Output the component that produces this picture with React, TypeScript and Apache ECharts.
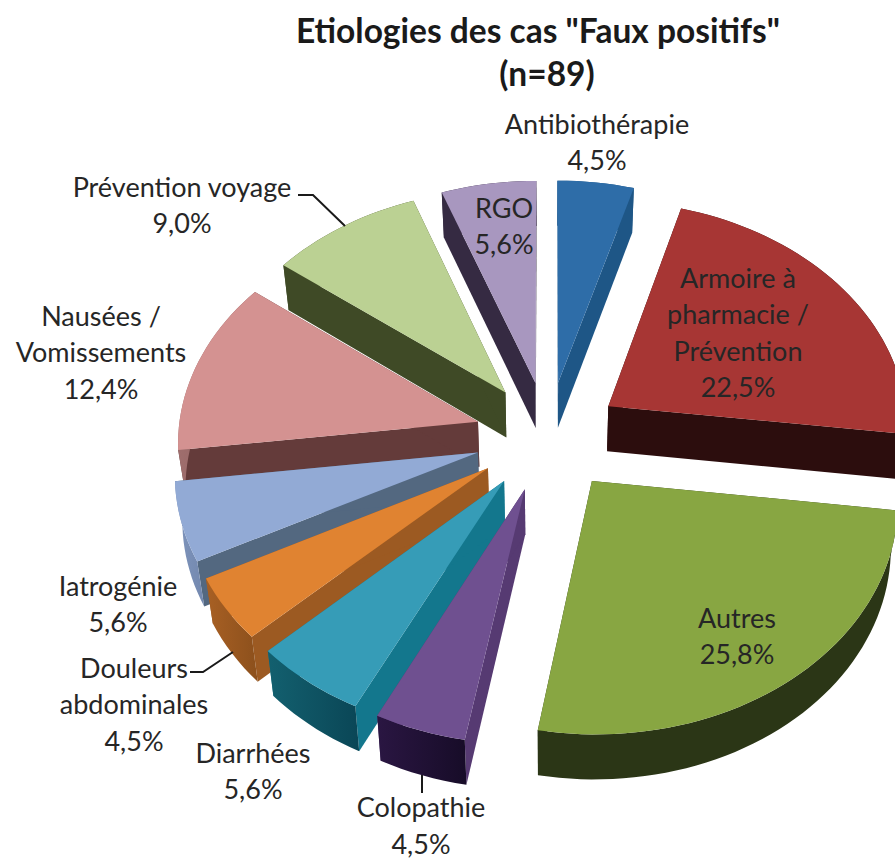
import React, { useEffect, useRef } from "react";
import * as echarts from "echarts";

const categories = ["Antibiothérapie", "Armoire à\npharmacie /\nPrévention", "Autres", "Colopathie", "Diarrhées", "Douleurs\nabdominales", "Iatrogénie", "Nausées /\nVomissements", "Prévention voyage", "RGO"];
const values = [4.5, 22.5, 25.8, 4.5, 5.6, 4.5, 5.6, 12.4, 9.0, 5.6];
const topColors = ["#2e6da8", "#a73634", "#88a642", "#6f5090", "#369cb7", "#e08331", "#92aad5", "#d49291", "#bbd193", "#a897bf"];
const faceColors = ["#1e5686", "#2c0d0d", "#2b3616", "#563a72", "#13778d", "#9c5a22", "#536880", "#643b3a", "#3f4a26", "#352a42"];
const wallFrom = ["#1e5686", "#2c0d0d", "#2b3616", "#2a1642", "#13606f", "#a86024", "#7f95bd", "#9f6e6d", "#3f4a26", "#352a42"];
const wallTo = ["#1e5686", "#2c0d0d", "#2b3616", "#170c28", "#0a4656", "#8c501c", "#7388ae", "#8a5a59", "#3f4a26", "#352a42"];
const drawOrder = [9, 0, 8, 1, 7, 6, 5, 4, 3, 2];
const labelAnchors = [[597, 123], [738, 277], [737, 617], [421, 806.5], [253, 752], [134, 667], [118, 585], [101, 315], [182, 186], [504, 207]];
const leaderLines = [
  [[298, 195], [313, 195], [345, 226]],
  [[190, 672], [203, 672], [233, 652]],
  [[422, 775], [422, 793]],
];

const CX = 548, CY = 436, SX = 300, SY = 226, P = 0.079, EXPLODE = 0.243, DEPTH = 45, SHRINK = 0.98;
const LINE = 36.5;

function project(u: number, v: number, down: boolean): number[] {
  const w = 1 - P * v;
  const x = SX * u / w;
  const y = CY + SY * v / w;
  return down ? [CX + x * SHRINK, y + DEPTH] : [CX + x, y];
}

function sliceShapes(i: number) {
  const before = values.slice(0, i).reduce((a, b) => a + b, 0);
  const a0 = (before / 100) * Math.PI * 2;
  const a1 = ((before + values[i]) / 100) * Math.PI * 2;
  const mid = (a0 + a1) / 2;
  const ou = EXPLODE * Math.sin(mid);
  const ov = -EXPLODE * Math.cos(mid);
  const steps = Math.max(8, Math.round((a1 - a0) * 30));
  const top: number[][] = [];
  const bottom: number[][] = [];
  for (let s = 0; s <= steps; s++) {
    const a = a0 + ((a1 - a0) * s) / steps;
    top.push(project(ou + Math.sin(a), ov - Math.cos(a), false));
    bottom.push(project(ou + Math.sin(a), ov - Math.cos(a), true));
  }
  const apexTop = project(ou, ov, false);
  const apexBottom = project(ou, ov, true);
  return {
    top: [apexTop, ...top],
    startFace: [apexTop, top[0], bottom[0], apexBottom],
    endFace: [apexTop, top[steps], bottom[steps], apexBottom],
    wall: [...top, ...bottom.slice().reverse()],
  };
}

const poly = (points: number[][], fill: any) => ({ type: "polygon", shape: { points }, style: { fill, stroke: null } });

function renderSlice(_params: any, api: any) {
  const i = api.value(0);
  const s = sliceShapes(i);
  const wallFill = new echarts.graphic.LinearGradient(0, 0, 1, 0, [
    { offset: 0, color: wallFrom[i] },
    { offset: 1, color: wallTo[i] },
  ]);
  return {
    type: "group",
    children: [
      poly(s.startFace, faceColors[i]),
      poly(s.endFace, faceColors[i]),
      poly(s.wall, wallFill),
      poly(s.top, topColors[i]),
    ],
  };
}

const pct = (v: number) => v.toFixed(1).replace(".", ",") + "%";

function labelElements() {
  const out: any[] = [];
  categories.forEach((c, i) => {
    const lines = [...c.split("\n"), pct(values[i])];
    lines.forEach((t, k) => {
      out.push({
        type: "text",
        x: labelAnchors[i][0],
        y: labelAnchors[i][1] + k * LINE,
        z: 20,
        style: { text: t, fill: "#262626", font: '27px Lato, "Open Sans", sans-serif', textAlign: "center", textVerticalAlign: "middle" },
      });
    });
  });
  return out;
}

export default function App() {
  const ref = useRef<HTMLDivElement>(null);
  useEffect(() => {
    const chart = echarts.init(ref.current!, undefined, { renderer: "svg" });
    chart.setOption({
      animation: false,
      backgroundColor: "#ffffff",
      series: [
        {
          type: "custom",
          coordinateSystem: "none",
          silent: true,
          renderItem: renderSlice,
          data: drawOrder.map((i) => [i, values[i]]),
        },
      ],
      graphic: [
        { type: "text", x: 538, y: 30, z: 20, style: { text: 'Etiologies des cas "Faux positifs"', fill: "#1a1a1a", font: 'bold 33.5px Lato, "Open Sans", sans-serif', textAlign: "center", textVerticalAlign: "middle" } },
        { type: "text", x: 547, y: 73, z: 20, style: { text: "(n=89)", fill: "#1a1a1a", font: 'bold 33.5px Lato, "Open Sans", sans-serif', textAlign: "center", textVerticalAlign: "middle" } },
        ...labelElements(),
        ...leaderLines.map((points) => ({ type: "polyline", z: 20, shape: { points }, style: { stroke: "#1a1a1a", lineWidth: 2, fill: null } })),
      ],
    });
    return () => chart.dispose();
  }, []);
  return <div ref={ref} style={{ position: "fixed", left: 0, top: 0, width: 895, height: 858 }} />;
}
